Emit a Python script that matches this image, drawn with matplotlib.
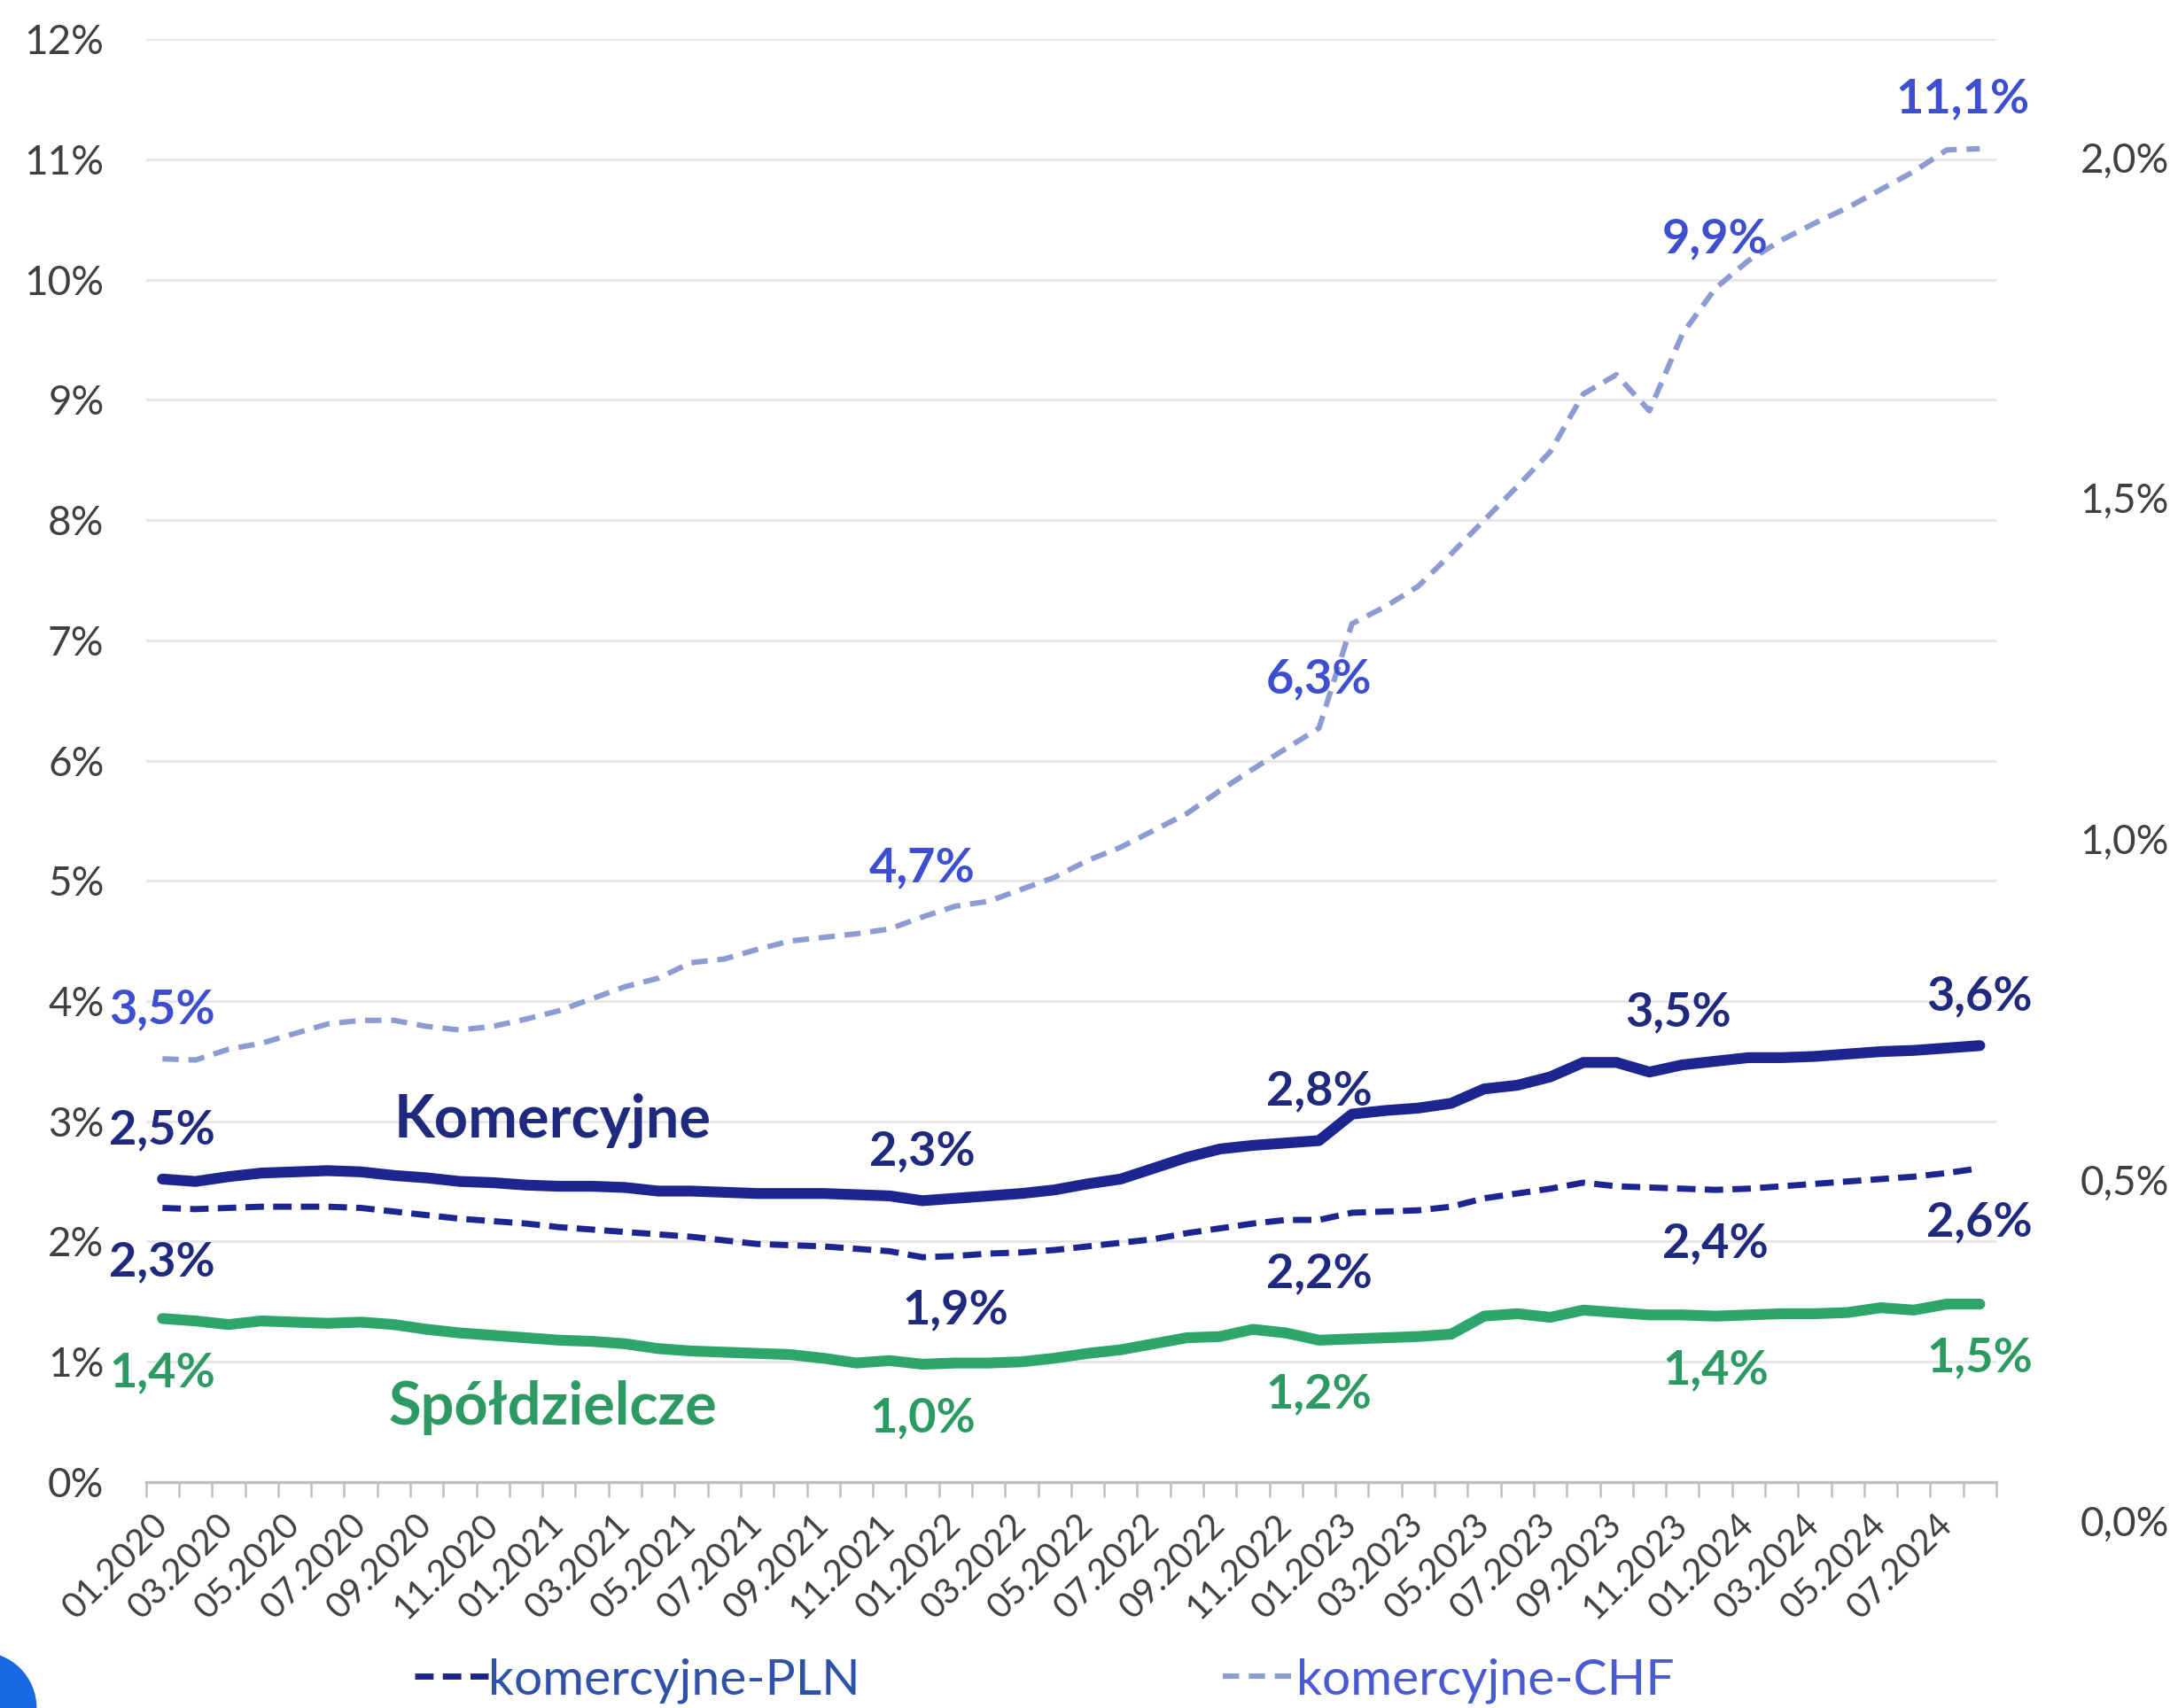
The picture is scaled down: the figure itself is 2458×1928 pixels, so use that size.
import matplotlib.pyplot as plt
import pandas as pd
from matplotlib.patches import Ellipse

plt.rcParams["font.family"] = ["Lato", "DejaVu Sans"]

# monthly categories 01.2020 - 08.2024
MONTHS = pd.date_range("2020-01-01", "2024-08-01", freq="MS").strftime("%m.%Y").tolist()

KOMERCYJNE = [
    2.52, 2.50, 2.54, 2.57, 2.58, 2.59, 2.58, 2.55, 2.53, 2.50, 2.49, 2.47,
    2.46, 2.46, 2.45, 2.42, 2.42, 2.41, 2.40, 2.40, 2.40, 2.39, 2.38, 2.34,
    2.36, 2.38, 2.40, 2.43, 2.48, 2.52, 2.61, 2.70, 2.77, 2.80, 2.82, 2.84,
    3.06, 3.09, 3.11, 3.15, 3.27, 3.30, 3.37, 3.49, 3.49, 3.41, 3.47, 3.50,
    3.53, 3.53, 3.54, 3.56, 3.58, 3.59, 3.61, 3.63,
]
KOMERCYJNE_PLN = [
    2.28, 2.27, 2.28, 2.29, 2.29, 2.29, 2.28, 2.25, 2.22, 2.19, 2.17, 2.15,
    2.12, 2.10, 2.08, 2.06, 2.04, 2.01, 1.98, 1.97, 1.96, 1.94, 1.92, 1.87,
    1.88, 1.90, 1.91, 1.93, 1.96, 1.99, 2.02, 2.07, 2.11, 2.15, 2.18, 2.18,
    2.24, 2.25, 2.26, 2.29, 2.36, 2.40, 2.44, 2.49, 2.46, 2.45, 2.44, 2.43,
    2.44, 2.46, 2.48, 2.50, 2.52, 2.54, 2.57, 2.61,
]
KOMERCYJNE_CHF = [
    3.52, 3.51, 3.60, 3.65, 3.73, 3.81, 3.84, 3.84, 3.79, 3.76, 3.79, 3.85,
    3.92, 4.02, 4.12, 4.19, 4.32, 4.35, 4.43, 4.50, 4.53, 4.56, 4.60, 4.70,
    4.79, 4.83, 4.93, 5.03, 5.17, 5.28, 5.42, 5.56, 5.75, 5.93, 6.10, 6.27,
    7.14, 7.28, 7.45, 7.72, 8.00, 8.28, 8.57, 9.05, 9.21, 8.91, 9.55, 9.93,
    10.16, 10.33, 10.47, 10.60, 10.75, 10.90, 11.08, 11.09,
]
SPOLDZIELCZE = [
    1.36, 1.34, 1.31, 1.34, 1.33, 1.32, 1.33, 1.31, 1.27, 1.24, 1.22, 1.20,
    1.18, 1.17, 1.15, 1.11, 1.09, 1.08, 1.07, 1.06, 1.03, 0.99, 1.01, 0.98,
    0.99, 0.99, 1.00, 1.03, 1.07, 1.10, 1.15, 1.20, 1.21, 1.27, 1.24, 1.18,
    1.19, 1.20, 1.21, 1.23, 1.38, 1.40, 1.37, 1.43, 1.41, 1.39, 1.39, 1.38,
    1.39, 1.40, 1.40, 1.41, 1.45, 1.43, 1.48, 1.48,
]

LABEL_IDX = [0, 23, 35, 47, 55]
PLN_LABEL_IDX = [0, 24, 35, 47, 55]
LEFT_TICKS = list(range(0, 13))
RIGHT_TICKS = [0.0, 0.5, 1.0, 1.5, 2.0]

NAVY = "#1C2590"
NAVY_TEXT = "#1F2A7E"
CHF_LINE = "#8D9BD3"
CHF_TEXT = "#3D4FCF"
GREEN = "#2EA66B"
GREEN_TEXT = "#2E9A63"
TICK_GREY = "#404040"


def pl(value, digits=1):
    return f"{value:.{digits}f}".replace(".", ",") + "%"


fig = plt.figure(figsize=(12.29, 9.64), dpi=200)
ax = fig.add_axes([0.067, 0.1323, 0.8496, 0.8447])

x = list(range(len(MONTHS)))

ax.plot(x, KOMERCYJNE_CHF, color=CHF_LINE, lw=2.2, dashes=(3.0, 1.8), zorder=2,
        label="komercyjne-CHF")
ax.plot(x, KOMERCYJNE_PLN, color=NAVY, lw=2.5, dashes=(3.0, 1.5), zorder=3,
        label="komercyjne-PLN")
ax.plot(x, KOMERCYJNE, color=NAVY, lw=4.4, solid_capstyle="round", zorder=4)
ax.plot(x, SPOLDZIELCZE, color=GREEN, lw=4.4, solid_capstyle="round", zorder=4)

ax.set_xlim(-0.5, len(MONTHS) - 0.5)
ax.set_ylim(0, 12)

# y axis
ax.set_yticks(LEFT_TICKS)
ax.set_yticklabels([f"{t}%" for t in LEFT_TICKS])
ax.tick_params(axis="y", length=0, pad=17, labelsize=16.5, labelcolor=TICK_GREY)
ax.yaxis.grid(True, color="#E6E6E6", lw=1.0)
ax.set_axisbelow(True)

# x axis: ticks between categories, labels every second month
ax.set_xticks([i - 0.5 for i in range(len(MONTHS) + 1)])
ax.set_xticklabels([])
ax.tick_params(axis="x", which="major", length=6, width=0.9, color="#BFBFBF")
ax.set_xticks(x[::2], minor=True)
ax.set_xticklabels(MONTHS[::2], minor=True, rotation=45, ha="right", va="center",
                   rotation_mode="anchor")
ax.tick_params(axis="x", which="minor", length=0, pad=15, labelsize=14.5,
               labelcolor=TICK_GREY)

for side in ["top", "right", "left"]:
    ax.spines[side].set_visible(False)
ax.spines["bottom"].set_color("#BFBFBF")
ax.spines["bottom"].set_linewidth(1.2)

# secondary (right) axis labels
ax_r = fig.add_axes([0.067, 0.1097, 0.8496, 0.8673], frameon=False)
ax_r.set_ylim(0, 2.1728)
ax_r.set_xticks([])
ax_r.yaxis.tick_right()
ax_r.set_yticks(RIGHT_TICKS)
ax_r.set_yticklabels([pl(t) for t in RIGHT_TICKS])
ax_r.tick_params(axis="y", length=0, pad=34, labelsize=16.5, labelcolor=TICK_GREY)


def add_labels(series, idx_list, color, dy, dx_map=None):
    dx_map = dx_map or {}
    for i in idx_list:
        ax.annotate(pl(series[i]), (i, series[i]), xytext=(dx_map.get(i, 0), dy),
                    textcoords="offset points", ha="center", va="center",
                    fontsize=19.5, fontweight="bold", color=color, zorder=6)


add_labels(KOMERCYJNE_CHF, LABEL_IDX, CHF_TEXT, 20, {55: -7})
add_labels(KOMERCYJNE, LABEL_IDX, NAVY_TEXT, 20, {47: -15})
add_labels(KOMERCYJNE_PLN, PLN_LABEL_IDX, NAVY_TEXT, -22)
add_labels(SPOLDZIELCZE, LABEL_IDX, GREEN_TEXT, -22)

ax.text(11.8, 3.01, "Komercyjne", ha="center", va="center", fontsize=24,
        fontweight="bold", color=NAVY_TEXT)
ax.text(11.8, 0.62, "Spółdzielcze", ha="center", va="center", fontsize=24,
        fontweight="bold", color=GREEN_TEXT)

leg = fig.legend(loc="center", bbox_to_anchor=(0.4796, 0.016), ncol=2, frameon=False,
                 fontsize=20.5, handlelength=1.45, handletextpad=0.0,
                 columnspacing=7.2, reverse=True)
for text, color in zip(leg.get_texts(), ["#2F52A8", "#4A5AD0"]):
    text.set_color(color)

# decorative circle in the lower-left corner
fig.patches.append(Ellipse((-0.11, 0.0), 0.62, 0.62, transform=fig.dpi_scale_trans,
                           color="#1668E3", zorder=0))

fig.savefig("out.png", dpi=200)
